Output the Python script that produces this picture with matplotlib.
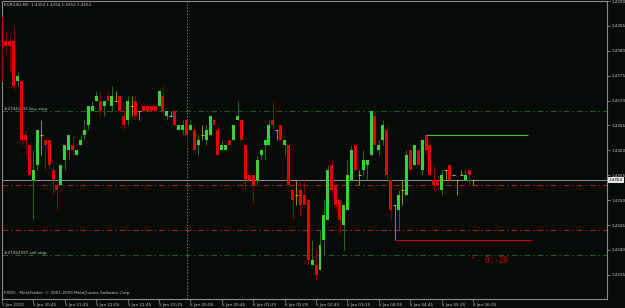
import numpy as np
import matplotlib
matplotlib.use("Agg")
import matplotlib.pyplot as plt
import matplotlib.transforms as mtrans

# EURUSD M5, 5 Jan 2010 20:05 .. 6 Jan 06:05
opens = [1.4386, 1.4382, 1.4382, 1.4382, 1.4374, 1.4374, 1.4363, 1.4361, 1.4354, 1.4357,
         1.4363, 1.4362, 1.4362, 1.4356, 1.4353, 1.4353, 1.4358, 1.4360, 1.4361, 1.4359,
         1.4361, 1.4363, 1.4365, 1.4368, 1.4370, 1.4370, 1.4369, 1.4371, 1.4369, 1.4370,
         1.4371, 1.4367, 1.4366, 1.4369, 1.4370, 1.4368, 1.4369, 1.4369, 1.4369, 1.4369,
         1.4369, 1.4371, 1.4367, 1.4367, 1.4368, 1.4364, 1.4364, 1.4366, 1.4364, 1.4364,
         1.4361, 1.4363, 1.4362, 1.4363, 1.4366, 1.4364, 1.4360, 1.4360, 1.4362, 1.4362,
         1.4366, 1.4366, 1.4361, 1.4355, 1.4355, 1.4354, 1.4359, 1.4361, 1.4361, 1.4366,
         1.4364, 1.4365, 1.4361, 1.4361, 1.4352, 1.4351, 1.4352, 1.4351, 1.4350, 1.4337,
         1.4337, 1.4336, 1.4342, 1.4346, 1.4357, 1.4353, 1.4350, 1.4345, 1.4348, 1.4354,
         1.4361, 1.4355, 1.4356, 1.4357, 1.4359, 1.4367, 1.4360, 1.4362, 1.4364, 1.4354,
         1.4349, 1.4348, 1.4352, 1.4351, 1.4360, 1.4357, 1.4360, 1.4356, 1.4363, 1.4361,
         1.4354, 1.4354, 1.4352, 1.4356, 1.4357, 1.4355, 1.4354, 1.4355, 1.4354, 1.4356,
         1.4354]
highs = [1.4387, 1.4384, 1.4383, 1.4385, 1.4376, 1.4374, 1.4364, 1.4361, 1.4360, 1.4364,
         1.4366, 1.4362, 1.4362, 1.4357, 1.4354, 1.4357, 1.4361, 1.4363, 1.4363, 1.4360,
         1.4363, 1.4366, 1.4369, 1.4370, 1.4372, 1.4372, 1.4370, 1.4372, 1.4373, 1.4372,
         1.4371, 1.4369, 1.4371, 1.4371, 1.4371, 1.4368, 1.4369, 1.4369, 1.4369, 1.4369,
         1.4372, 1.4373, 1.4368, 1.4368, 1.4368, 1.4365, 1.4366, 1.4366, 1.4366, 1.4365,
         1.4363, 1.4365, 1.4365, 1.4367, 1.4366, 1.4365, 1.4362, 1.4361, 1.4362, 1.4365,
         1.4370, 1.4366, 1.4361, 1.4355, 1.4355, 1.4359, 1.4360, 1.4362, 1.4366, 1.4370,
         1.4364, 1.4365, 1.4362, 1.4361, 1.4352, 1.4354, 1.4354, 1.4354, 1.4350, 1.4342,
         1.4340, 1.4344, 1.4350, 1.4357, 1.4358, 1.4353, 1.4350, 1.4349, 1.4358, 1.4361,
         1.4361, 1.4356, 1.4360, 1.4358, 1.4368, 1.4368, 1.4362, 1.4366, 1.4365, 1.4354,
         1.4349, 1.4352, 1.4354, 1.4360, 1.4360, 1.4361, 1.4360, 1.4362, 1.4363, 1.4362,
         1.4357, 1.4355, 1.4356, 1.4356, 1.4357, 1.4355, 1.4354, 1.4356, 1.4356, 1.4356,
         1.4354]
lows = [1.4374, 1.4380, 1.4376, 1.4372, 1.4373, 1.4361, 1.4359, 1.4355, 1.4346, 1.4356,
        1.4359, 1.4356, 1.4356, 1.4351, 1.4348, 1.4353, 1.4356, 1.4358, 1.4359, 1.4359,
        1.4361, 1.4362, 1.4364, 1.4368, 1.4370, 1.4367, 1.4367, 1.4370, 1.4368, 1.4370,
        1.4368, 1.4364, 1.4365, 1.4367, 1.4366, 1.4366, 1.4368, 1.4368, 1.4368, 1.4368,
        1.4369, 1.4367, 1.4366, 1.4367, 1.4365, 1.4364, 1.4363, 1.4361, 1.4364, 1.4360,
        1.4359, 1.4362, 1.4361, 1.4363, 1.4365, 1.4359, 1.4360, 1.4360, 1.4361, 1.4362,
        1.4366, 1.4362, 1.4352, 1.4354, 1.4349, 1.4353, 1.4358, 1.4358, 1.4361, 1.4364,
        1.4362, 1.4362, 1.4359, 1.4353, 1.4346, 1.4349, 1.4347, 1.4349, 1.4337, 1.4337,
        1.4334, 1.4336, 1.4339, 1.4346, 1.4351, 1.4348, 1.4343, 1.4340, 1.4348, 1.4354,
        1.4356, 1.4353, 1.4355, 1.4354, 1.4359, 1.4361, 1.4359, 1.4361, 1.4354, 1.4346,
        1.4342, 1.4344, 1.4349, 1.4351, 1.4356, 1.4357, 1.4357, 1.4355, 1.4359, 1.4355,
        1.4352, 1.4352, 1.4351, 1.4354, 1.4354, 1.4355, 1.4351, 1.4355, 1.4354, 1.4353,
        1.4353]
closes = [1.4381, 1.4381, 1.4381, 1.4373, 1.4375, 1.4362, 1.4362, 1.4355, 1.4356, 1.4364,
          1.4363, 1.4361, 1.4357, 1.4354, 1.4352, 1.4357, 1.4361, 1.4363, 1.4360, 1.4360,
          1.4362, 1.4364, 1.4369, 1.4369, 1.4371, 1.4368, 1.4370, 1.4370, 1.4371, 1.4370,
          1.4368, 1.4365, 1.4370, 1.4369, 1.4367, 1.4368, 1.4368, 1.4368, 1.4368, 1.4368,
          1.4372, 1.4368, 1.4368, 1.4367, 1.4365, 1.4365, 1.4365, 1.4363, 1.4365, 1.4360,
          1.4362, 1.4363, 1.4364, 1.4367, 1.4365, 1.4359, 1.4361, 1.4361, 1.4361, 1.4365,
          1.4367, 1.4362, 1.4354, 1.4354, 1.4353, 1.4358, 1.4360, 1.4362, 1.4365, 1.4365,
          1.4364, 1.4362, 1.4362, 1.4353, 1.4350, 1.4351, 1.4349, 1.4349, 1.4338, 1.4338,
          1.4335, 1.4341, 1.4347, 1.4356, 1.4352, 1.4349, 1.4346, 1.4349, 1.4355, 1.4360,
          1.4356, 1.4355, 1.4358, 1.4358, 1.4368, 1.4361, 1.4361, 1.4365, 1.4355, 1.4348,
          1.4349, 1.4351, 1.4352, 1.4359, 1.4356, 1.4361, 1.4357, 1.4362, 1.4360, 1.4355,
          1.4353, 1.4353, 1.4355, 1.4356, 1.4354, 1.4355, 1.4354, 1.4355, 1.4355, 1.4355,
          1.4354]

time_labels = ["5 Jan 2010", "5 Jan 20:45", "5 Jan 21:25", "5 Jan 22:05", "5 Jan 22:45",
               "5 Jan 23:25", "6 Jan 00:05", "6 Jan 00:45", "6 Jan 01:25", "6 Jan 02:05",
               "6 Jan 02:45", "6 Jan 03:25", "6 Jan 04:05", "6 Jan 04:45", "6 Jan 05:25",
               "6 Jan 06:05"]
label_bars = list(range(0, 121, 8))
price_ticks = [1.4335, 1.4340, 1.4345, 1.4350, 1.4355, 1.4360, 1.4365,
               1.4370, 1.4375, 1.4380, 1.4385, 1.4390]

bid = 1.4354
day_sep_bar = 47                      # 6 Jan 00:00
buy_stop = 1.4368
sell_stop = 1.4339
stop_levels = [1.4353, 1.4344]
buy_label = "#27441291 buy stop"
sell_label = "#27452597 sell stop"
res_start, res_end, res_price = 108, 134, 1.4363
sup_start, sup_end, sup_price = 100, 135, 1.4342
timer_text = "^- 0:-29"
header = "EURUSD,M5  1.4354 1.4354 1.4353 1.4354"
footer = "FXDD - MetaTrader, \u00a9 2001-2009 MetaQuotes Software Corp."

BG = "#070b07"
FG = "#c4c4c4"
FRAME = "#8a8a8a"
BULL, BEAR = "#36d236", "#e40000"
WICK_UP, WICK_DN, DOJI = "#1d6a1d", "#800000", "#8c8a10"
ORD_GREEN, ORD_RED = "#1f5a1f", "#a8240c"

plt.rcParams["lines.scale_dashes"] = False
fig = plt.figure(figsize=(6.25, 3.08), dpi=100, facecolor=BG)
ax = fig.add_axes([2 / 625, 9 / 308, 605 / 625, 298 / 308], facecolor=BG)

o, h, l, c = (np.array(a) for a in (opens, highs, lows, closes))
x = np.arange(len(o))
up, dn, dj = c > o, c < o, c == o
bw = 0.76

ax.vlines(x[up], l[up], h[up], color=WICK_UP, lw=0.75, zorder=3)
ax.vlines(x[dn], l[dn], h[dn], color=WICK_DN, lw=0.75, zorder=3)
ax.vlines(x[dj], l[dj], h[dj], color=DOJI, lw=0.75, zorder=3)
ax.bar(x[up], c[up] - o[up], bottom=o[up], width=bw, color=BULL, lw=0, zorder=4)
ax.bar(x[dn], o[dn] - c[dn], bottom=c[dn], width=bw, color=BEAR, lw=0, zorder=4)
ax.hlines(o[dj], x[dj] - bw / 2, x[dj] + bw / 2, color="#c8b400", lw=0.75, zorder=4)

# order lines
dashdot = (0, (4, 2.2, 1, 2.2))
for lvl in (buy_stop, sell_stop):
    ax.axhline(lvl, color=ORD_GREEN, lw=0.75, ls=dashdot, zorder=2)
for lvl in stop_levels:
    ax.axhline(lvl, color=ORD_RED, lw=0.75, ls=dashdot, zorder=2)
ax.axhline(bid, color="#8c8c8c", lw=0.75, zorder=2)
ax.axvline(day_sep_bar, color="#7c7c7c", lw=0.75, ls=(0, (1, 1.3)), zorder=1)

ax.hlines(res_price, res_start, res_end, color="#34c234", lw=0.8, zorder=5)
ax.hlines(sup_price, sup_start, sup_end, color="#d00000", lw=0.8, zorder=5)

tr = mtrans.blended_transform_factory(ax.transAxes, ax.transData)
ax.text(0.004, buy_stop, buy_label, transform=tr, fontsize=3, color=FG, va="bottom")
ax.text(0.004, sell_stop, sell_label, transform=tr, fontsize=3, color=FG, va="bottom")
ax.text(len(o) - 1.6, 1.43378, timer_text, fontsize=5.5, color="#d00000",
        family="DejaVu Sans Mono", va="center", ha="left")
ax.text(0.003, 0.993, header, transform=ax.transAxes, fontsize=3, color=FG, va="top")
ax.text(0.003, 0.012, footer, transform=ax.transAxes, fontsize=3, color=FG, va="bottom")

ax.set_xlim(0.15, 154.1)
ax.set_ylim(1.433014, 1.438974)

ax.set_xticks(label_bars)
ax.set_xticklabels(time_labels, ha="left")
ax.yaxis.tick_right()
ax.set_yticks(price_ticks)
ax.set_yticklabels([f"{p:.4f}" for p in price_ticks])
ax.tick_params(axis="both", colors=FRAME, labelcolor=FG, labelsize=3,
               length=2, width=0.6, pad=1)
for sp in ax.spines.values():
    sp.set_color(FRAME)
    sp.set_linewidth(0.8)

ax.text(1.003, bid, f"{bid:.4f}", transform=tr, fontsize=3, color="black",
        va="center", ha="left",
        bbox=dict(boxstyle="square,pad=0.25", fc="#e6e6e6", ec="none"))

fig.savefig("out.png", dpi=100, facecolor=BG)
